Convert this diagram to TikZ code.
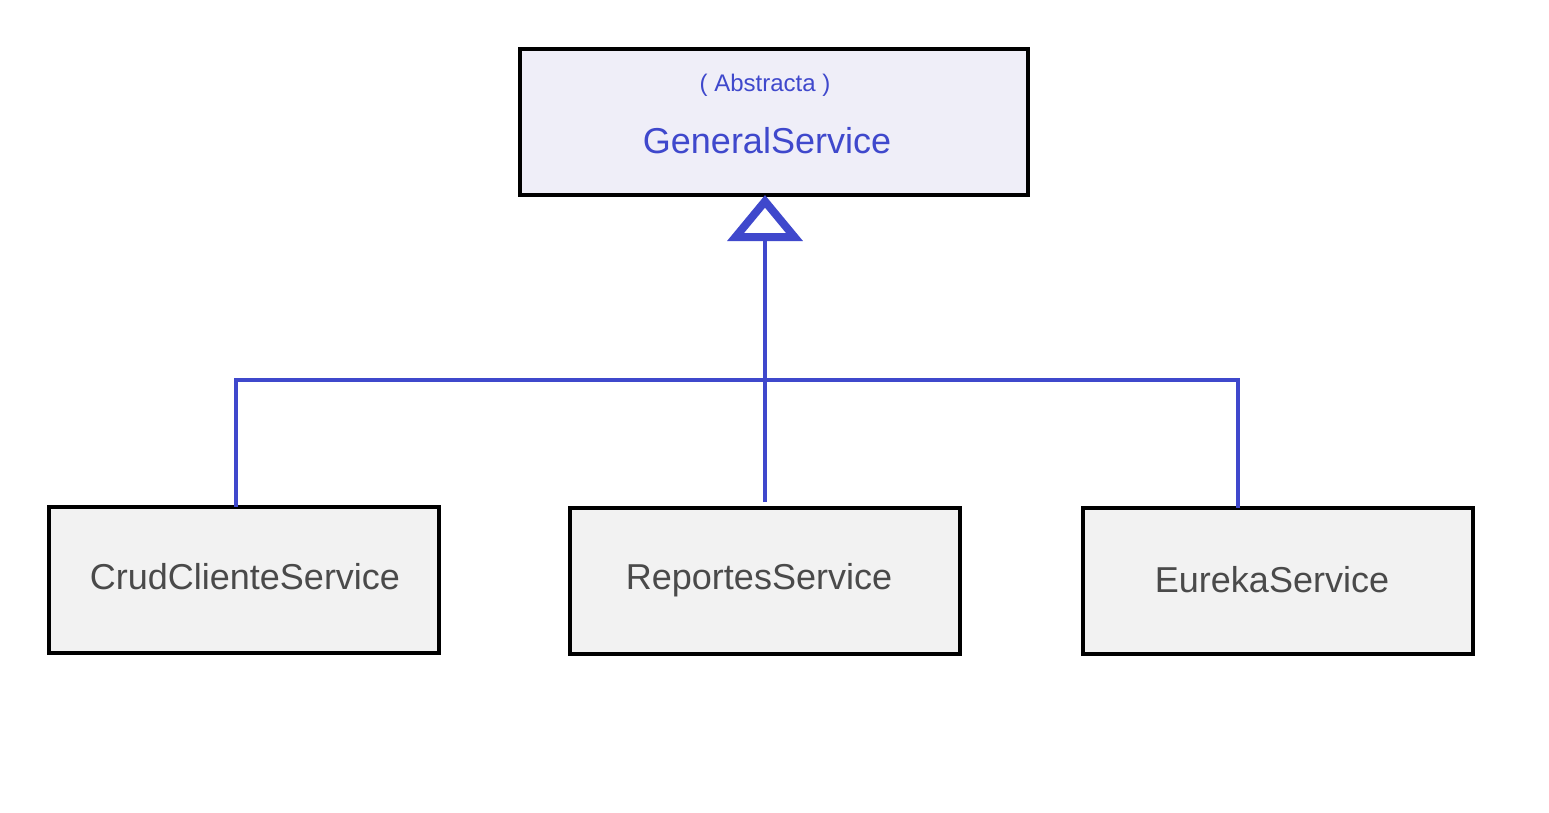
\documentclass[tikz,border=0pt]{standalone}
\usepackage{fontspec}
\setmainfont{Liberation Sans}
\usetikzlibrary{arrows.meta}
\definecolor{umlblue}{HTML}{3F48CC}
\definecolor{absfill}{HTML}{EFEEF8}
\definecolor{subfill}{HTML}{F2F2F2}
\definecolor{subtext}{HTML}{4A4A4A}
\tikzset{
  classbox/.style={draw=black, line width=4.5pt, inner sep=0pt, outer sep=0pt, minimum width=390pt, minimum height=146pt, fill=subfill},
  subname/.style={font=\fontsize{36}{40}\selectfont, text=subtext, anchor=base, inner sep=0pt},
  conn/.style={draw=umlblue, line width=4.5pt, line join=miter},
}
\begin{document}
\begin{tikzpicture}[x=1pt,y=-1pt]
\useasboundingbox[fill=white] (0,0) rectangle (1549,812);
% boxes
\node[classbox, fill=absfill, minimum width=508pt] (gen) at (774,122) {};
\node[classbox] (crud) at (244,580) {};
\node[classbox] (rep) at (765,581) {};
\node[classbox] (eur) at (1278,581) {};
% texts
\node[anchor=base, inner sep=0pt, text=umlblue, font=\fontsize{24}{28}\selectfont] (abs) at (765,91) {( Abstracta )};
\node[anchor=base, inner sep=0pt, text=umlblue, font=\fontsize{36}{40}\selectfont] (genname) at (767,153) {GeneralService};
\node[subname] (crudname) at (245,589) {CrudClienteService};
\node[subname] (repname) at (759,589) {ReportesService};
\node[subname] (eurname) at (1272,592) {EurekaService};
% connectors
\draw[conn] ([xshift=-8pt]crud.north) |- ([xshift=-40pt]eur.north |- 0,380) -- ([xshift=-40pt]eur.north);
\draw[conn, -{Triangle[open, length=46pt, width=74pt, line width=8pt]}] ([yshift=6pt]rep.north) -- (rep.north |- gen.south);
\end{tikzpicture}
\end{document}
